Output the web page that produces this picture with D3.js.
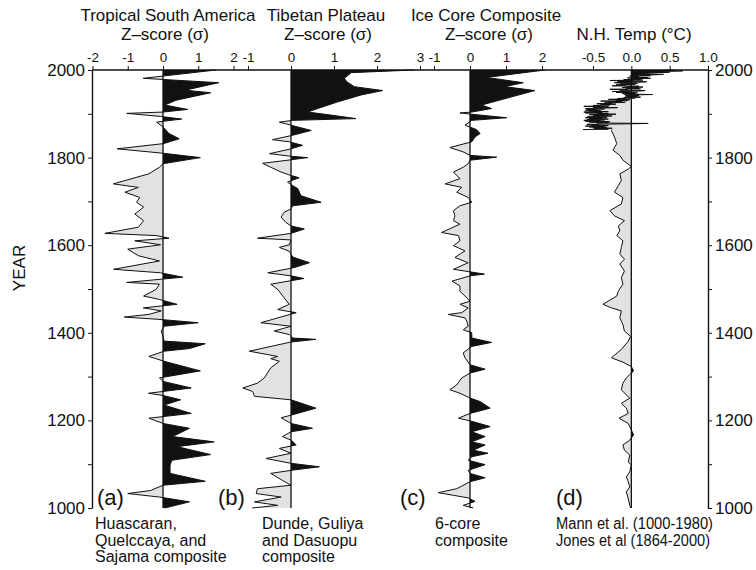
<!DOCTYPE html>
<html><head><meta charset="utf-8">
<script src="https://cdn.jsdelivr.net/npm/d3@7"></script>
<style>
body{margin:0;background:#fff}
svg text{font-family:"Liberation Sans",Arial,Helvetica,sans-serif;fill:#111}
</style>
</head><body>
<svg id="chart" width="756" height="570"></svg>
<script>
// ---------- data ----------
const yearTicks = [1000,1100,1200,1300,1400,1500,1600,1700,1800,1900,2000];
const yearLabels = [1000,1200,1400,1600,1800,2000];
const ticksA = [-2,-1,0,1,2];
const ticksB = [-1,0,1,2,3];
const ticksC = [-1,0,1,2];
const ticksD = [-0.5,0.0,0.5,1.0];

// (a) Tropical South America
const yearsA = [2000,1981,1971,1954,1948,1931,1920,1910,1904,1901,1894,1888,1881,1870,1855,1843,1832,1820,1810,1800,1786,1778,1763,1740,1732,1721,1709,1698,1687,1671,1656,1641,1627,1622,1616,1610,1601,1591,1576,1564,1545,1537,1527,1515,1511,1499,1484,1476,1465,1457,1450,1442,1436,1430,1423,1415,1404,1392,1381,1375,1364,1358,1346,1335,1313,1297,1289,1274,1262,1257,1247,1235,1216,1205,1193,1182,1163,1151,1140,1122,1109,1098,1079,1061,1052,1040,1033,1025,1014,1000];
const valuesA = [1.5,-0.56,1.58,0.63,1.35,0.37,0.05,0.7,0.0,-1.03,-0.07,0.53,-0.18,0.0,0.17,0.46,0.02,-1.3,0.0,1.06,0.0,-0.1,-0.4,-1.41,-0.7,-1.08,-0.66,-0.75,-0.55,-0.8,-0.55,-0.7,-1.65,-0.2,0.17,-0.8,-0.07,-1.0,-0.7,-0.1,-1.4,-0.07,0.56,-1.03,-0.1,-0.2,-0.55,-0.1,0.4,-0.56,-0.05,-0.4,-1.1,0.0,1.0,0.03,-0.05,0.0,0.03,1.2,0.75,0.03,-0.4,0.03,1.06,-0.1,0.0,0.8,-0.41,0.0,0.5,0.03,0.8,-0.4,0.0,0.75,0.27,1.45,0.4,1.35,0.25,0.2,0.2,1.2,0.0,-0.35,-1.0,-0.1,0.75,0.05];

// (b) Tibetan Plateau
const yearsB = [2000,1994,1981,1973,1962,1953,1943,1927,1912,1904,1897,1889,1885,1881,1874,1862,1851,1841,1836,1828,1820,1809,1803,1800,1795,1787,1778,1767,1759,1754,1744,1736,1729,1713,1698,1690,1683,1675,1664,1652,1644,1637,1627,1616,1612,1601,1595,1586,1573,1560,1549,1537,1530,1524,1511,1499,1480,1465,1453,1446,1423,1415,1404,1396,1388,1385,1379,1358,1346,1341,1335,1320,1297,1285,1274,1266,1255,1247,1228,1213,1206,1193,1182,1174,1163,1155,1144,1136,1125,1113,1102,1094,1086,1079,1063,1052,1044,1033,1025,1014,1006,1000];
const valuesB = [2.87,1.4,1.24,1.3,1.47,2.13,1.63,1.08,0.62,0.39,0.93,1.51,0.04,-0.27,0.0,0.47,0.04,-0.43,-0.04,0.27,0.0,-0.5,0.0,0.39,0.0,-0.66,-0.47,-0.23,0.0,0.19,-0.08,0.04,0.16,0.23,0.7,0.04,0.0,-0.16,-0.23,-0.12,0.0,0.31,0.0,-0.78,0.0,-0.04,-0.27,-0.04,0.04,0.43,0.08,-0.54,0.0,0.3,-0.47,-0.31,-0.16,-0.04,-0.31,0.12,-0.7,0.0,-0.39,-0.04,0.04,0.58,0.0,-0.97,-0.31,-0.47,-0.27,-0.47,-0.62,-0.78,-1.12,-0.89,-0.85,0.0,0.58,0.04,-0.23,0.0,0.5,0.0,-0.2,0.0,0.12,-0.27,0.0,-0.58,0.0,0.66,0.0,-0.47,-0.2,0.0,-0.78,-0.81,-0.23,-0.85,-0.31,-0.9];

// (c) Ice Core Composite
const yearsC = [2000,1983,1971,1962,1953,1920,1912,1904,1902,1899,1891,1885,1874,1864,1855,1847,1836,1823,1813,1805,1801,1794,1786,1778,1767,1752,1740,1732,1721,1709,1698,1690,1679,1667,1656,1648,1629,1622,1610,1599,1587,1572,1560,1545,1534,1530,1518,1507,1495,1484,1472,1465,1457,1446,1442,1434,1427,1415,1407,1400,1388,1378,1369,1354,1343,1327,1317,1308,1297,1281,1270,1262,1251,1243,1228,1216,1205,1199,1186,1174,1163,1151,1144,1132,1125,1117,1109,1099,1086,1079,1069,1060,1044,1035,1029,1023,1015,1006,1000];
const valuesC = [2.08,0.46,1.48,0.97,1.8,0.32,0.6,0.05,-0.28,0.05,1.02,0.05,-0.14,0.18,0.28,0.14,0.05,-0.56,-0.19,0.0,0.74,0.0,-0.05,-0.19,-0.46,-0.28,-0.69,-0.23,-0.37,-0.05,0.05,-0.28,-0.46,-0.42,-0.46,-0.28,-0.79,-0.32,-0.28,-0.46,-0.14,-0.42,-0.05,-0.46,0.4,0.0,-0.5,-0.28,-0.28,-0.14,0.0,-0.28,-0.05,-0.23,-0.6,-0.14,-0.09,-0.05,-0.19,0.05,0.05,0.6,0.05,-0.19,-0.14,0.0,0.42,0.0,-0.23,-0.37,-0.56,-0.28,0.0,0.28,0.56,0.0,-0.32,0.0,0.56,0.05,0.42,0.05,0.42,0.09,0.5,0.05,-0.05,0.42,-0.05,0.0,0.42,0.0,-0.37,-0.88,-0.46,-0.05,0.14,-0.19,0.09];

// (d) N.H. temperature: Mann et al. (1000-1980)
const yearsMann = [1000,1006,1021,1037,1048,1060,1071,1083,1098,1105,1121,1132,1144,1155,1167,1182,1193,1205,1216,1228,1239,1251,1258,1270,1285,1297,1313,1323,1333,1343,1362,1381,1392,1404,1419,1434,1450,1457,1465,1484,1495,1511,1526,1541,1557,1568,1580,1595,1610,1622,1633,1644,1656,1667,1679,1694,1709,1721,1736,1748,1763,1774,1780,1794,1805,1817,1832,1847,1862,1875,1890,1905,1920,1935,1950,1965,1980];
const valuesMann = [-0.01,-0.02,-0.04,-0.065,-0.02,-0.04,-0.065,-0.02,0.0,-0.04,-0.02,-0.09,-0.11,-0.02,0.03,-0.01,-0.04,-0.16,-0.04,-0.065,-0.13,-0.02,-0.065,-0.13,-0.11,-0.065,0.03,0.0,-0.11,-0.26,-0.13,-0.04,-0.01,-0.09,-0.11,-0.15,-0.13,-0.26,-0.37,-0.19,-0.17,-0.11,-0.13,-0.09,-0.15,-0.09,-0.15,-0.13,-0.11,-0.19,-0.15,-0.17,-0.09,-0.22,-0.28,-0.13,-0.11,-0.22,-0.17,-0.13,-0.15,-0.04,0.0,-0.11,-0.15,-0.24,-0.19,-0.22,-0.26,-0.22,-0.25,-0.2,-0.15,-0.08,-0.05,-0.08,0.02];

// Jones et al. (1864-2000), annual
const jonesStart = 1864;
const valuesJones = [-0.63,-0.3,-0.48,-0.25,-0.5,-0.32,-0.55,-0.35,-0.6,-0.3,-0.52,-0.42,-0.58,
 -0.05,0.22,-0.45,-0.3,
 -0.55,-0.28,-0.6,-0.4,-0.62,-0.35,-0.58,-0.3,-0.55,-0.38,-0.6,-0.32,-0.58,-0.4,-0.25,-0.5,-0.3,-0.55,-0.2,-0.45,
 -0.3,-0.6,-0.38,-0.62,-0.3,-0.55,-0.4,-0.6,-0.45,-0.58,-0.35,-0.6,-0.42,-0.18,-0.5,-0.3,-0.62,-0.4,-0.5,-0.28,
 -0.4,-0.2,-0.45,-0.25,-0.35,-0.08,-0.3,-0.12,-0.4,-0.05,-0.2,-0.02,-0.3,-0.08,-0.18,0.05,-0.1,0.12,-0.05,0.08,
 -0.08,0.1,-0.05,0.28,-0.1,0.05,-0.12,0.08,-0.2,-0.02,-0.25,0.1,0.18,-0.15,-0.05,-0.28,0.12,-0.05,0.1,-0.12,
 0.15,-0.05,0.1,-0.25,-0.08,-0.2,0.05,-0.15,0.08,-0.1,-0.22,0.05,0.2,-0.18,0.02,-0.28,0.15,-0.1,0.12,0.02,
 0.25,-0.05,0.22,0.0,0.1,-0.02,0.25,0.15,0.3,0.42,0.25,0.1,0.2,0.35,0.5,0.22,0.48,0.67,0.4,0.55];

// ---------- drawing ----------
const svg = d3.select("#chart");
const TOP = 70, BOT = 508, LEFT = 92, RIGHT = 708;
const FONT = "Liberation Sans, Arial, Helvetica, sans-serif";
const y = d3.scaleLinear().domain([1000, 2000]).range([BOT, TOP]);

const xa = d3.scaleLinear().domain([-2, 2]).range([92.5, 233.5]);
const xb = d3.scaleLinear().domain([-1, 3]).range([248, 420]);
const xc = d3.scaleLinear().domain([-1, 2]).range([434, 542]);
const xd = d3.scaleLinear().domain([-0.5, 1.0]).range([593, 708]);

const NEG = "#e2e2e2", POS = "#111";
const defs = svg.append("defs");

function drawSeries(id, xs, years, values, strokeW) {
  const data = years.map((yr, i) => ({year: yr, v: values[i]})).sort((a, b) => a.year - b.year);
  const z = xs(0);
  defs.append("clipPath").attr("id", id + "pos").append("rect")
    .attr("x", z).attr("y", 0).attr("width", 400).attr("height", 570);
  defs.append("clipPath").attr("id", id + "neg").append("rect")
    .attr("x", 0).attr("y", 0).attr("width", z).attr("height", 570);
  const area = d3.area().y(d => y(d.year)).x0(z).x1(d => xs(d.v));
  const line = d3.line().y(d => y(d.year)).x(d => xs(d.v));
  svg.append("path").datum(data).attr("d", area).attr("fill", NEG).attr("clip-path", `url(#${id}neg)`);
  svg.append("path").datum(data).attr("d", area).attr("fill", POS).attr("clip-path", `url(#${id}pos)`);
  svg.append("path").datum(data).attr("d", line).attr("fill", "none")
    .attr("stroke", "#111").attr("stroke-width", strokeW).attr("stroke-linejoin", "miter");
}

drawSeries("a", xa, yearsA, valuesA, 1);
drawSeries("b", xb, yearsB, valuesB, 1);
drawSeries("c", xc, yearsC, valuesC, 1);
drawSeries("m", xd, yearsMann, valuesMann, 1);
const yearsJones = valuesJones.map((v, i) => jonesStart + i);
drawSeries("j", xd, yearsJones, valuesJones, 1);

// zero lines
[xa, xb, xc, xd].forEach(xs => {
  svg.append("line").attr("x1", xs(0)).attr("x2", xs(0)).attr("y1", TOP).attr("y2", BOT)
    .attr("stroke", "#111").attr("stroke-width", 1.3);
});

// top axes
const intFmt = d => String(d);
const decFmt = d => d.toFixed(1);
const panels = [[xa, ticksA, intFmt], [xb, ticksB, intFmt], [xc, ticksC, intFmt], [xd, ticksD, decFmt]];
panels.forEach(([xs, tv, fmt]) => {
  const g = svg.append("g").attr("transform", `translate(0,${TOP})`)
    .call(d3.axisTop(xs).tickValues(tv).tickSize(4).tickSizeOuter(0).tickFormat(fmt).tickPadding(4));
  g.select(".domain").remove();
  g.selectAll("text").attr("font-size", 13.5).attr("font-family", FONT).attr("fill", "#111");
  g.selectAll("line").attr("stroke", "#111");
});
svg.append("line").attr("x1", LEFT).attr("x2", RIGHT).attr("y1", TOP).attr("y2", TOP)
  .attr("stroke", "#111").attr("stroke-width", 1.5);

// year axes
const yfmt = d => yearLabels.includes(d) ? String(d) : "";
const gl = svg.append("g").attr("transform", `translate(${LEFT},0)`)
  .call(d3.axisLeft(y).tickValues(yearTicks).tickSize(4).tickSizeOuter(0).tickFormat(yfmt).tickPadding(3));
const gr = svg.append("g").attr("transform", `translate(${RIGHT},0)`)
  .call(d3.axisRight(y).tickValues(yearTicks).tickSize(4).tickSizeOuter(0).tickFormat(yfmt).tickPadding(3));
[gl, gr].forEach(g => {
  g.selectAll("text").attr("font-size", 17).attr("font-family", FONT).attr("fill", "#111");
  g.selectAll("line").attr("stroke", "#111");
  g.select(".domain").attr("stroke", "#111").attr("stroke-width", 1.4);
});

// titles
function txt(x, yy, s, size, anchor, len) {
  const t = svg.append("text").attr("x", x).attr("y", yy).attr("font-size", size)
    .attr("text-anchor", anchor || "middle").text(s);
  if (len) t.attr("textLength", len).attr("lengthAdjust", "spacingAndGlyphs");
  return t;
}
txt(168, 21, "Tropical South America", 17);
txt(165, 40, "Z\u2013score (\u03c3)", 17);
txt(326, 21, "Tibetan Plateau", 17);
txt(328, 40, "Z\u2013score (\u03c3)", 17);
txt(486, 21, "Ice Core Composite", 17);
txt(489, 40, "Z\u2013score (\u03c3)", 17);
txt(634, 40, "N.H. Temp (\u00b0C)", 17);

svg.append("text").attr("transform", "translate(25,268) rotate(-90)")
  .attr("text-anchor", "middle").attr("font-size", 17).text("YEAR");

// panel letters
txt(97, 505, "(a)", 22, "start");
txt(218, 505, "(b)", 22, "start");
txt(400, 505, "(c)", 22, "start");
txt(556, 505, "(d)", 22, "start");

// captions
const cap = [
  [95, ["Huascaran,", "Quelccaya, and", "Sajama composite"]],
  [262, ["Dunde, Guliya", "and Dasuopu", "composite"]],
  [435, ["6-core", "composite"]],
  [556, ["Mann et al. (1000-1980)", "Jones et al (1864-2000)"]]
];
cap.forEach(([x, lines]) => lines.forEach((s, i) => {
  const t = txt(x, 529 + i * 16.5, s, 16, "start");
  if (x === 556) t.attr("textLength", i === 0 ? 157 : 154).attr("lengthAdjust", "spacingAndGlyphs");
}));
</script>
</body></html>
